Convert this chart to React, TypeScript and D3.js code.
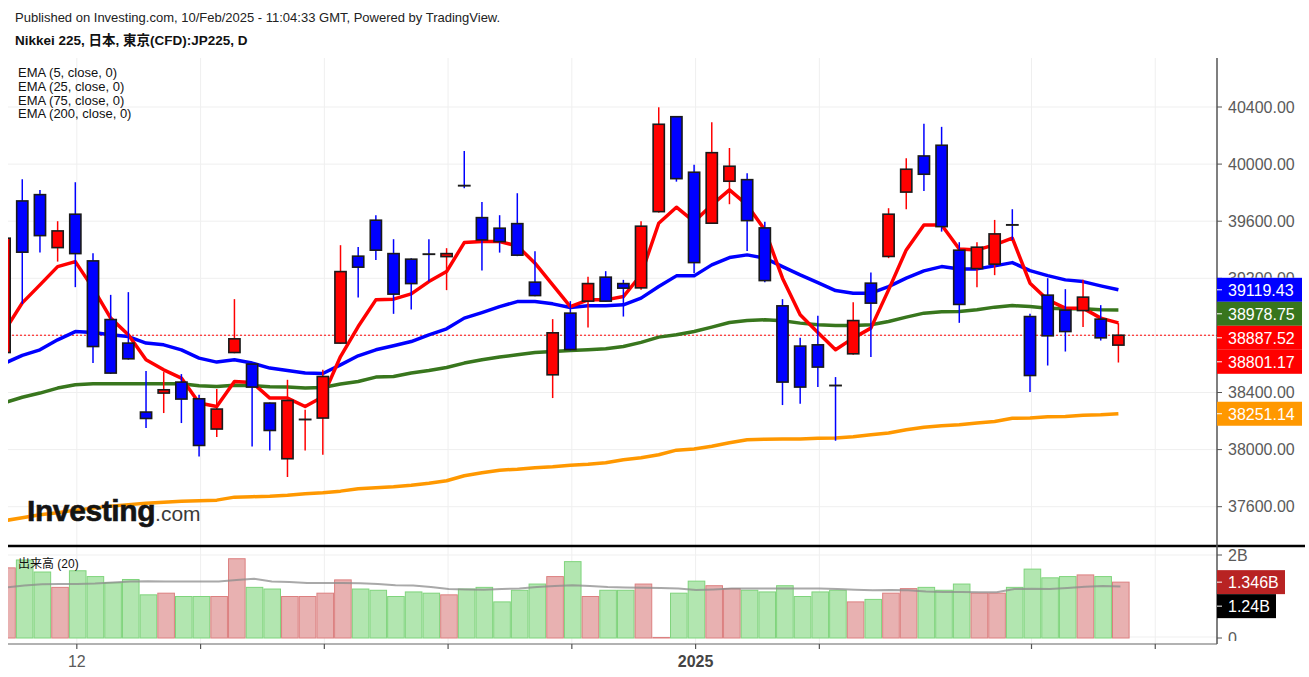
import React from 'react';
import * as d3 from 'd3';

// ---------- DATA ----------
const opens = [
  38680, 39742, 39786, 39415, 39649, 39322, 38911, 38746, 38263, 38396,
  38473, 38356, 38144, 38680, 38599, 38326, 37936, 38210, 38221, 38746,
  39355, 39607, 39373, 39334, 39370, 39352, 39850, 39625, 39551, 39583,
  39173, 38524, 38956, 39040, 39208, 39163, 39133, 39667, 40332, 39943,
  39586, 39880, 39891, 39553, 39007, 38725, 38734, 38450, 38671, 39166,
  39353, 39804, 40057, 40132, 39397, 39268, 39299, 39575, 38932, 39082,
  38977, 38974, 38914, 38732,
];
const highs = [
  39490, 39894, 39819, 39600, 39873, 39376, 39084, 39103, 38550, 38543,
  38529, 38384, 38424, 39054, 38605, 38330, 38489, 38279, 38559, 39432,
  39420, 39642, 39474, 39340, 39474, 39411, 40092, 39735, 39642, 39796,
  39390, 38914, 39040, 39210, 39250, 39189, 39600, 40398, 40337, 39996,
  40293, 40113, 39936, 39597, 39054, 38783, 38937, 38508, 39033, 39240,
  39691, 40041, 40282, 40261, 39453, 39453, 39609, 39684, 38951, 39201,
  39124, 39189, 39012, 38886,
];
const lows = [
  38670, 39021, 39380, 39317, 39138, 38606, 38530, 38630, 38151, 38256,
  38186, 37952, 38088, 38675, 38022, 37994, 37808, 37994, 37964, 38740,
  39065, 39329, 38951, 38981, 39177, 39117, 39831, 39254, 39380, 39355,
  39075, 38361, 38695, 38855, 39035, 38932, 39119, 39660, 39877, 39236,
  39580, 39719, 39392, 39173, 38312, 38321, 38438, 38062, 38665, 38648,
  39341, 39684, 39812, 39527, 38888, 39138, 39222, 39469, 38403, 38589,
  38687, 38858, 38764, 38610,
];
const closes = [
  39481, 39383, 39499, 39532, 39373, 38722, 38536, 38636, 38218, 38419,
  38354, 38029, 38284, 38776, 38438, 38134, 38344, 38212, 38512, 39247,
  39278, 39397, 39089, 39163, 39368, 39373, 39848, 39469, 39457, 39362,
  39079, 38818, 38701, 39163, 39040, 39131, 39565, 40279, 39898, 39310,
  40080, 39985, 39604, 39184, 38473, 38438, 38578, 38448, 38904, 39026,
  39649, 39964, 39929, 39562, 39017, 39418, 39511, 39573, 38519, 38797,
  38827, 39068, 38783, 38801.17,
];
const ema5 = [
  38832, 39028, 39154, 39282, 39317, 39131, 38921, 38804, 38629, 38559,
  38501, 38326, 38302, 38477, 38470, 38361, 38361, 38302, 38370, 38652,
  38862, 39049, 39054, 39091, 39177, 39247, 39450, 39457, 39457, 39427,
  39306, 39154, 39002, 39049, 39049, 39072, 39225, 39586, 39698, 39597,
  39714, 39819, 39714, 39539, 39201, 38944, 38820, 38699, 38781, 38851,
  39119, 39399, 39574, 39574, 39405, 39399, 39434, 39481, 39166, 39049,
  38991, 38991, 38921, 38887.52,
];
const ema25 = [
  38605, 38660, 38699, 38769, 38827, 38820, 38804, 38792, 38746, 38734,
  38699, 38641, 38613, 38629, 38606, 38571, 38554, 38536, 38533, 38594,
  38657, 38699, 38727, 38757, 38804, 38846, 38921, 38960, 39002, 39037,
  39037, 39021, 38995, 39007, 39007, 39014, 39061, 39142, 39217, 39217,
  39294, 39345, 39364, 39341, 39282, 39224, 39170, 39114, 39096, 39096,
  39142, 39201, 39252, 39282, 39265, 39266, 39287, 39310, 39254, 39219,
  39189, 39177, 39147, 39119.43,
];
const ema75 = [
  38328, 38367, 38396, 38431, 38454, 38461, 38461, 38461, 38461, 38461,
  38461, 38447, 38442, 38450, 38449, 38440, 38438, 38431, 38435, 38459,
  38477, 38508, 38512, 38536, 38554, 38575, 38606, 38629, 38648, 38664,
  38680, 38687, 38694, 38699, 38706, 38722, 38751, 38788, 38804, 38827,
  38858, 38890, 38904, 38909, 38902, 38886, 38874, 38869, 38869, 38874,
  38897, 38928, 38956, 38965, 38968, 38979, 38998, 39009, 39002, 38991,
  38986, 38986, 38979, 38978.75,
];
const ema200 = [
  37502, 37523, 37544, 37558, 37576, 37590, 37604, 37614, 37625, 37632,
  37639, 37642, 37646, 37667, 37670, 37674, 37681, 37691, 37698, 37709,
  37726, 37733, 37740, 37751, 37765, 37782, 37817, 37838, 37856, 37863,
  37873, 37880, 37891, 37898, 37908, 37929, 37943, 37964, 37996, 38004,
  38024, 38048, 38069, 38073, 38074, 38074, 38080, 38081, 38090, 38104,
  38116, 38139, 38157, 38167, 38174, 38186, 38197, 38220, 38221, 38230,
  38232, 38241, 38244, 38251.14,
];
// volume in billions
const volumes = [
  1.69, 1.88, 1.59, 1.22, 1.62, 1.48, 1.33, 1.41, 1.04, 1.08,
  1.0, 1.0, 1.0, 1.91, 1.22, 1.18, 1.0, 1.0, 1.08, 1.4,
  1.18, 1.15, 1.0, 1.11, 1.08, 1.04, 1.18, 1.22, 0.87, 1.15,
  1.3, 1.48, 1.84, 1.0, 1.15, 1.15, 1.3, 0.01, 1.08, 1.37,
  1.26, 1.19, 1.15, 1.11, 1.26, 1.0, 1.11, 1.15, 0.87, 0.93,
  1.08, 1.19, 1.22, 1.15, 1.3, 1.08, 1.08, 1.22, 1.66, 1.45,
  1.48, 1.52, 1.48, 1.346,
];
const volMA = [
  1.217, 1.265, 1.294, 1.301, 1.301, 1.313, 1.337, 1.361, 1.366, 1.361,
  1.361, 1.361, 1.361, 1.398, 1.429, 1.361, 1.349, 1.325, 1.325, 1.325,
  1.318, 1.301, 1.27, 1.265, 1.229, 1.181, 1.169, 1.164, 1.181, 1.193,
  1.229, 1.253, 1.27, 1.253, 1.229, 1.217, 1.212, 1.205, 1.193, 1.157,
  1.169, 1.19, 1.19, 1.19, 1.19, 1.19, 1.19, 1.181, 1.164, 1.149,
  1.157, 1.149, 1.12, 1.108, 1.108, 1.101, 1.101, 1.181, 1.188, 1.181,
  1.205, 1.236, 1.25, 1.24,
];
const priceTicks = [37600, 38000, 38400, 38800, 39200, 39600, 40000, 40400];
const volTicks = [0, 2];
const volTickLabels = ['0', '2B'];
const xTickIdx = [4, 11, 18, 25, 32, 39, 46, 58, 65];
const xLabels = [
  { idx: 4, text: '12', bold: false },
  { idx: 39, text: '2025', bold: true },
];
const legendTexts = ['EMA (5, close, 0)', 'EMA (25, close, 0)', 'EMA (75, close, 0)', 'EMA (200, close, 0)'];

// ---------- STYLE ----------
const RED = '#ff0000';
const BLUE = '#0000ff';
const GREEN = '#38761d';
const ORANGE = '#ff9800';
const FONT = '"Liberation Sans", Arial, sans-serif';

export default function App() {
  const n = closes.length;
  const x = d3.scaleLinear().domain([0, n - 1]).range([4.6, 1118.4]);
  const y = d3.scaleLinear().domain([37600, 40400]).range([506.7, 107]);
  const yv = d3.scaleLinear().domain([0, 2]).range([638, 555]);

  const L = 8, R = 1217, TOP = 58, SEP = 546, VBOT = 644;

  const line = (arr: number[]) =>
    d3.line<number>().x((_, i) => x(i)).y((d) => y(d))(arr) || '';
  const maLine =
    d3.line<number>().x((_, i) => x(i) + 2).y((d) => yv(d))(volMA) || '';

  // price labels, stacked to avoid overlap
  const fmt = d3.format('.2f');
  const rawLabels = [
    { v: ema25[n - 1], color: BLUE },
    { v: ema75[n - 1], color: GREEN },
    { v: ema5[n - 1], color: RED },
    { v: closes[n - 1], color: RED },
    { v: ema200[n - 1], color: ORANGE },
  ]
    .map((d) => ({ ...d, y0: y(d.v) }))
    .sort((a, b) => a.y0 - b.y0);
  let prev = -1e9;
  const priceLabels = rawLabels.map((d) => {
    const cy = Math.max(d.y0, prev + 24);
    prev = cy;
    return { ...d, cy };
  });

  const volLabelsRaw = [
    { v: volumes[n - 1], color: '#b82323', w: 68 },
    { v: volMA[n - 1], color: '#000000', w: 59 },
  ].map((d) => ({ ...d, y0: yv(d.v) }));
  let prevV = -1e9;
  const volLabels = volLabelsRaw.map((d) => {
    const cy = Math.max(d.y0, prevV + 24);
    prevV = cy;
    return { ...d, cy };
  });

  // tick labels hidden under value boxes are clipped out
  const boxCovers = (ty: number) => priceLabels.some((d) => Math.abs(d.cy - ty) < 12 + 8);

  return (
    <svg
      width={1309}
      height={677}
      style={{ position: 'absolute', left: 0, top: 0, background: '#fff' }}
      fontFamily={FONT}
    >
      <defs>
        <clipPath id="mainClip">
          <rect x={L} y={TOP} width={R - L} height={SEP - TOP} />
        </clipPath>
        <clipPath id="volClip">
          <rect x={L} y={SEP + 2} width={R - L} height={VBOT - SEP - 2} />
        </clipPath>
        <clipPath id="volAxisClip">
          <rect x={R} y={SEP + 2} width={100} height={641 - SEP - 2} />
        </clipPath>
        {priceLabels.map((d, i) => (
          <clipPath key={'tc' + i} id={'tickClip' + i}>
            <rect x={R} y={TOP} width={100} height={Math.max(0, d.cy - 12 - TOP)} />
          </clipPath>
        ))}
      </defs>

      {/* header */}
      <text x={15} y={22} fontSize={13} fill="#222">
        Published on Investing.com, 10/Feb/2025 - 11:04:33 GMT, Powered by TradingView.
      </text>
      <text
        x={15}
        y={45}
        fontSize={13.5}
        fontWeight="bold"
        fill="#111"
        fontFamily='"Liberation Sans", "Noto Sans CJK JP", sans-serif'
      >
        Nikkei 225, 日本, 東京(CFD):JP225, D
      </text>

      {/* grid */}
      {priceTicks.map((t) => (
        <line key={'hg' + t} x1={L} x2={R} y1={y(t)} y2={y(t)} stroke="#efefef" strokeWidth={1} />
      ))}
      <line x1={L} x2={R} y1={yv(2)} y2={yv(2)} stroke="#efefef" strokeWidth={1} />
      <line x1={L} x2={R} y1={yv(0) - 1} y2={yv(0) - 1} stroke="#efefef" strokeWidth={1} />
      {xTickIdx.map((i) => (
        <line key={'vg' + i} x1={x(i) + 1.5} x2={x(i) + 1.5} y1={TOP} y2={VBOT} stroke="#efefef" strokeWidth={1} />
      ))}

      {/* legend */}
      {legendTexts.map((t, i) => (
        <text key={t} x={18} y={77 + i * 13.8} fontSize={13} fill="#111">
          {t}
        </text>
      ))}

      {/* main plot */}
      <g clipPath="url(#mainClip)">
        <line
          x1={L}
          x2={R}
          y1={y(closes[n - 1])}
          y2={y(closes[n - 1])}
          stroke={RED}
          strokeWidth={1}
          strokeDasharray="2 2"
        />
        <path d={line(ema200)} fill="none" stroke={ORANGE} strokeWidth={3.5} strokeLinejoin="round" />
        <path d={line(ema75)} fill="none" stroke={GREEN} strokeWidth={3.5} strokeLinejoin="round" />
        <path d={line(ema25)} fill="none" stroke={BLUE} strokeWidth={3.5} strokeLinejoin="round" />
        <path d={line(ema5)} fill="none" stroke={RED} strokeWidth={3.5} strokeLinejoin="round" />
        {closes.map((c, i) => {
          const o = opens[i];
          const up = c >= o;
          const col = up ? RED : BLUE;
          const cx = x(i);
          const top = y(Math.max(o, c));
          const bot = y(Math.min(o, c));
          return (
            <g key={'c' + i}>
              <line x1={cx} x2={cx} y1={y(highs[i])} y2={y(lows[i])} stroke={col} strokeWidth={1.5} />
              <rect
                x={cx - 5.6}
                y={top}
                width={11.2}
                height={Math.max(bot - top, 0.3)}
                fill={col}
                stroke="#1a1a1a"
                strokeWidth={1.6}
              />
            </g>
          );
        })}
      </g>

      {/* logo */}
      <text
        x={27}
        y={521}
        fontSize={30}
        fontWeight="bold"
        fill="#141414"
        stroke="#141414"
        strokeWidth={0.6}
        letterSpacing={-0.4}
      >
        Investing
        <tspan fontWeight="normal" fontSize={21} fill="#3a3a3a" stroke="none" letterSpacing={0}>
          .com
        </tspan>
      </text>

      {/* separator */}
      <line x1={L} x2={1305} y1={SEP} y2={SEP} stroke="#000" strokeWidth={2.4} />

      {/* volume */}
      <g clipPath="url(#volClip)">
        {volumes.map((v, i) => {
          const up = closes[i] >= opens[i];
          const left = x(i) - 6.4;
          const top = yv(v);
          return (
            <rect
              key={'v' + i}
              x={left + 0.5}
              y={Math.min(top, yv(0) - 0.5)}
              width={16.6}
              height={Math.max(yv(0) - top, 0.5)}
              fill={up ? '#e8b1b1' : '#b2e6b0'}
              stroke={up ? '#dc8080' : '#7fd47c'}
              strokeWidth={1}
            />
          );
        })}
        <path d={maLine} fill="none" stroke="#8c8c8c" strokeOpacity={0.75} strokeWidth={2} />
      </g>
      <text x={18} y={568} fontSize={12} fill="#111" fontFamily='"Liberation Sans", "Noto Sans CJK JP", sans-serif'>
        出来高 (20)
      </text>

      {/* right axis */}
      <line x1={R} x2={R} y1={TOP} y2={VBOT} stroke="#555" strokeWidth={1.5} />
      {priceTicks.map((t) => {
        const ty = y(t);
        const covering = priceLabels.findIndex((d) => ty > d.cy - 12 - 9 && ty < d.cy + 12 + 9);
        const fully = priceLabels.some((d) => ty - 8 >= d.cy - 12 - 1 && ty + 8 <= d.cy + 12 + 24);
        if (boxCovers(ty) && fully && covering >= 0 && ty >= priceLabels[covering].cy - 12) return null;
        return (
          <g key={'pt' + t} clipPath={covering >= 0 ? `url(#tickClip${covering})` : undefined}>
            <line x1={R} x2={R + 5} y1={ty} y2={ty} stroke="#555" strokeWidth={1} />
            <text x={1228} y={ty} dy="0.36em" fontSize={16} fill="#5a5a5a">
              {fmt(t)}
            </text>
          </g>
        );
      })}
      <g clipPath="url(#volAxisClip)">
        {volTicks.map((t, i) => (
          <g key={'vt' + t}>
            <line x1={R} x2={R + 5} y1={yv(t)} y2={yv(t)} stroke="#555" strokeWidth={1} />
            <text x={1228} y={yv(t)} dy="0.36em" fontSize={16} fill="#5a5a5a">
              {volTickLabels[i]}
            </text>
          </g>
        ))}
      </g>

      {/* price labels */}
      {priceLabels.map((d, i) => (
        <g key={'pl' + i}>
          <rect x={R} y={d.cy - 12} width={85} height={24} fill={d.color} />
          <line x1={R} x2={R + 5} y1={d.cy} y2={d.cy} stroke="#fff" strokeWidth={1} />
          <text x={1228} y={d.cy} dy="0.36em" fontSize={16} fill="#fff">
            {fmt(d.v)}
          </text>
        </g>
      ))}
      {volLabels.map((d, i) => (
        <g key={'vl' + i}>
          <rect x={R} y={d.cy - 12} width={d.w} height={24} fill={d.color} />
          <line x1={R} x2={R + 5} y1={d.cy} y2={d.cy} stroke="#fff" strokeWidth={1} />
          <text x={1228} y={d.cy} dy="0.36em" fontSize={16} fill="#fff">
            {`${d.v}B`}
          </text>
        </g>
      ))}

      {/* bottom axis */}
      <line x1={L} x2={R} y1={VBOT} y2={VBOT} stroke="#666" strokeWidth={1.2} />
      {xTickIdx.map((i) => (
        <line key={'xt' + i} x1={x(i) + 1.5} x2={x(i) + 1.5} y1={VBOT} y2={VBOT + 5} stroke="#555" strokeWidth={1.2} />
      ))}
      {xLabels.map((l) => (
        <text
          key={'xl' + l.idx}
          x={x(l.idx) + 1.5}
          y={661}
          dy="0.36em"
          textAnchor="middle"
          fontSize={16}
          fontWeight={l.bold ? 'bold' : 'normal'}
          fill={l.bold ? '#444' : '#5a5a5a'}
        >
          {l.text}
        </text>
      ))}
    </svg>
  );
}
